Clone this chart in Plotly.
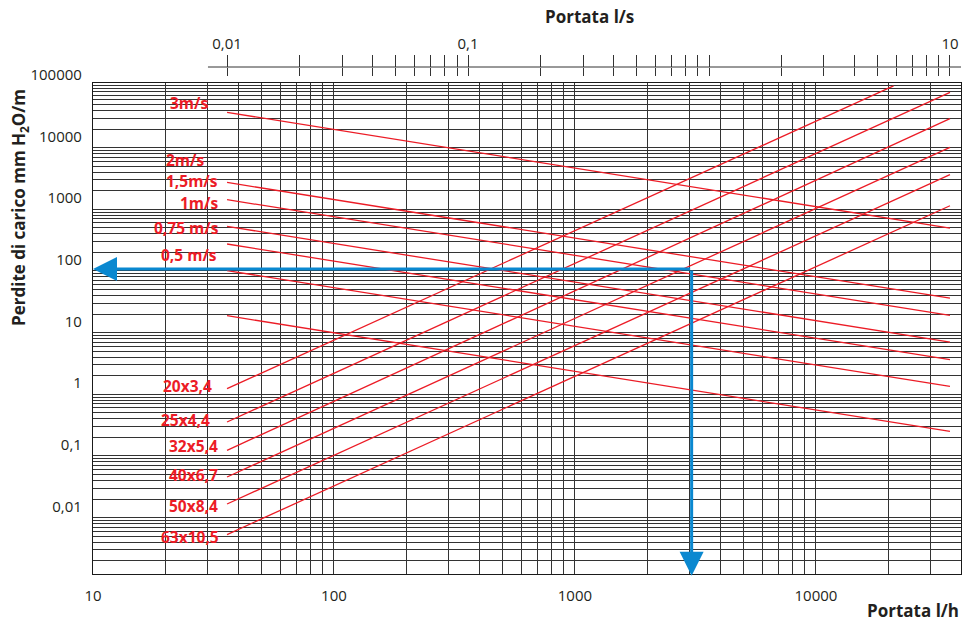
import numpy as np
import plotly.graph_objects as go

# ---------------- data ----------------
# flow range of the chart (l/h) and head-loss range (mm H2O/m)
flow_range_lh = [10, 40000]
loss_range = [10 ** -2.915, 10 ** 5.047]
LH_PER_LS = 3600  # 1 l/s = 3600 l/h

# bottom axis (l/h): labelled decades
flow_label_vals = [10, 100, 1000, 10000]
flow_label_text = ["10", "100", "1000", "10000"]

# left axis (mm H2O/m): labelled decades
loss_label_vals = [100000, 10000, 1000, 100, 10, 1, 0.1, 0.01]
loss_label_text = ["100000", "10000", "1000", "100", "10", "1", "0,1", "0,01"]

# top axis (l/s): labelled ticks
ls_label_vals = [0.01, 0.1, 10]
ls_label_text = ["0,01", "0,1", "10"]
ls_axis_start_lh = 30  # top scale line starts at 30 l/h

# pipe lines (rising): outer diameter x wall thickness
pipe_names = ["20x3,4", "25x4,4", "32x5,4", "40x6,7", "50x8,4", "63x10,5"]
pipe_flow_start = [36, 36, 36, 36, 36, 36]
pipe_loss_start = [1.23, 0.355, 0.123, 0.0455, 0.0166, 0.0053]
pipe_flow_end = [21000, 36000, 36000, 36000, 36000, 36000]
pipe_loss_end = [100000, 78500, 29400, 10070, 3630, 1140]

# velocity lines (falling)
vel_flow_start = [36, 36, 36, 36, 36, 36, 36]
vel_loss_start = [37200, 2720, 1430, 527, 273, 101, 18.8]
vel_flow_end = [36000, 36000, 36000, 36000, 36000, 36000, 36000]
vel_loss_end = [494, 36.2, 19.0, 7.0, 3.63, 1.34, 0.25]
vel_names = ["3m/s", "2m/s", "1,5m/s", "1m/s", "0,75 m/s", "0,5 m/s"]

# example reading (blue arrows)
guide_flow = 3050   # l/h
guide_loss = 107    # mm H2O/m

# ---------------- label placement (positions, not data) ----------------
vel_label_pos_x = [30.5, 29.5, 33.6, 33.6, 34.1, 33.3]
vel_label_pos_y = [53500, 6350, 2820, 1260, 497, 183]
pipe_label_pos_x = [31.8, 31.2, 33.8, 33.6, 33.6, 34.1]
pipe_label_pos_y = [1.34, 0.377, 0.1426, 0.0496, 0.0156, 0.00484]

# ---------------- styles ----------------
RED = "#ec1c26"
BLUE = "#0a88d0"
GRID = "#333333"
TXT = "#231f20"
FONT = "Open Sans"

W, H = 964, 624
L, R, T, B = 93, 3, 67, 50
plot_top_px = 83
plot_w = W - L - R
paper_h = H - T - B
y_dom_top = (H - B - plot_top_px) / paper_h


def px_x(px):
    return (px - L) / plot_w


def px_y(py):
    return (H - B - py) / paper_h


# grid tick values (1..9 per decade)
def log_ticks(lo, hi):
    vals = []
    e = int(np.floor(np.log10(lo))) - 1
    while 10 ** e <= hi * 10:
        for m in range(1, 10):
            v = m * 10.0 ** e
            if lo * 0.999 <= v <= hi * 1.001:
                vals.append(float(f"{v:.6g}"))
        e += 1
    return vals


def label_for(v, vals, texts):
    m = [t for lv, t in zip(vals, texts) if abs(np.log10(v) - np.log10(lv)) < 1e-6]
    return m[0] if m else ""


x_ticks = log_ticks(flow_range_lh[0], flow_range_lh[1])
x_text = [label_for(v, flow_label_vals, flow_label_text) for v in x_ticks]
y_ticks = log_ticks(loss_range[0], loss_range[1])
y_text = [label_for(v, loss_label_vals, loss_label_text) for v in y_ticks]
ls_ticks = log_ticks(0.01, 10)
ls_text = [label_for(v, ls_label_vals, ls_label_text) for v in ls_ticks]

fig = go.Figure()

for i in range(len(vel_loss_start)):
    fig.add_trace(go.Scatter(
        x=[vel_flow_start[i], vel_flow_end[i]], y=[vel_loss_start[i], vel_loss_end[i]],
        mode="lines", line=dict(color=RED, width=1.3), hoverinfo="skip", showlegend=False))
for i in range(len(pipe_names)):
    fig.add_trace(go.Scatter(
        x=[pipe_flow_start[i], pipe_flow_end[i]], y=[pipe_loss_start[i], pipe_loss_end[i]],
        mode="lines", line=dict(color=RED, width=1.3), hoverinfo="skip", showlegend=False))

# invisible traces to attach the top (l/s) axes
for ax in ["x2", "x3"]:
    fig.add_trace(go.Scatter(x=ls_ticks, y=[1] * len(ls_ticks), xaxis=ax, yaxis="y",
                             mode="markers", marker=dict(opacity=0), hoverinfo="skip",
                             showlegend=False))

lx = [np.log10(v) for v in flow_range_lh]
ly = [np.log10(v) for v in loss_range]

fig.update_layout(
    width=W, height=H,
    margin=dict(l=L, r=R, t=T, b=B, pad=0),
    paper_bgcolor="white", plot_bgcolor="rgba(0,0,0,0)",
    font=dict(family=FONT, size=15, color=TXT),
    showlegend=False,
    xaxis=dict(type="log", range=lx, tickmode="array", tickvals=x_ticks, ticktext=x_text,
               showgrid=True, gridcolor=GRID, gridwidth=1, ticks="",
               showline=True, mirror=True, linecolor="#1a1a1a", linewidth=1.2,
               ticklabelstandoff=8, tickfont=dict(size=15, color=TXT)),
    yaxis=dict(type="log", range=ly, domain=[0, y_dom_top], tickmode="array",
               tickvals=y_ticks, ticktext=y_text,
               showgrid=True, gridcolor=GRID, gridwidth=1, ticks="",
               showline=True, mirror=True, linecolor="#1a1a1a", linewidth=1.2,
               ticklabelshift=-11, ticklabelstandoff=7, tickfont=dict(size=15, color=TXT)),
    xaxis2=dict(type="log", overlaying="x", anchor="free", position=1, side="top",
                range=[v - np.log10(LH_PER_LS) for v in lx],
                tickmode="array", tickvals=ls_ticks, ticktext=ls_text,
                ticks="outside", ticklen=12, tickcolor="#333", tickwidth=1,
                showline=False, showgrid=False, tickfont=dict(size=15, color=TXT),
                ticklabelstandoff=0),
    xaxis3=dict(type="log", overlaying="x", anchor="free", position=1, side="top",
                range=[v - np.log10(LH_PER_LS) for v in lx],
                tickmode="array", tickvals=ls_ticks, ticktext=[""] * len(ls_ticks),
                ticks="inside", ticklen=8, tickcolor="#333", tickwidth=1,
                showline=False, showgrid=False, showticklabels=False),
)

# top scale line
fig.add_shape(type="line", xref="x", yref="paper", x0=ls_axis_start_lh, x1=flow_range_lh[1],
              y0=1, y1=1, line=dict(color="#333", width=1))

annotations = []
for name, xv, yv in zip(vel_names, vel_label_pos_x, vel_label_pos_y):
    annotations.append(dict(text=f"<b>{name}</b>", x=np.log10(xv), y=np.log10(yv), xref="x", yref="y",
                            xanchor="right", yanchor="middle", showarrow=False,
                            font=dict(color=RED, size=15.5, family=FONT)))
for name, xv, yv in zip(pipe_names, pipe_label_pos_x, pipe_label_pos_y):
    annotations.append(dict(text=f"<b>{name}</b>", x=np.log10(xv), y=np.log10(yv), xref="x", yref="y",
                            xanchor="right", yanchor="middle", showarrow=False,
                            font=dict(color=RED, size=15.5, family=FONT)))

# blue example arrows
annotations.append(dict(text="", x=lx[0], y=np.log10(guide_loss), xref="x", yref="y",
                        ax=np.log10(guide_flow), ay=np.log10(guide_loss), axref="x", ayref="y",
                        showarrow=True, arrowhead=2, arrowsize=1.6, arrowwidth=3,
                        arrowcolor=BLUE, standoff=0))
annotations.append(dict(text="", x=np.log10(guide_flow), y=ly[0] - 0.03, xref="x", yref="y",
                        ax=np.log10(guide_flow), ay=np.log10(guide_loss), axref="x", ayref="y",
                        showarrow=True, arrowhead=2, arrowsize=1.6, arrowwidth=3,
                        arrowcolor=BLUE, standoff=0))

# titles
annotations.append(dict(text="<b>Portata l/s</b>", x=px_x(589), y=px_y(17), xref="paper", yref="paper",
                        xanchor="center", yanchor="middle", showarrow=False,
                        font=dict(size=17, color=TXT, family=FONT)))
annotations.append(dict(text="<b>Portata l/h</b>", x=px_x(961), y=px_y(624), xref="paper", yref="paper",
                        xanchor="right", yanchor="bottom", showarrow=False,
                        font=dict(size=17, color=TXT, family=FONT)))
annotations.append(dict(text="<b>Perdite di carico mm H<sub>2</sub>O/m</b>", x=px_x(19), y=px_y(208),
                        xref="paper", yref="paper", xanchor="center", yanchor="middle",
                        textangle=-90, showarrow=False, font=dict(size=17, color=TXT, family=FONT)))

fig.update_layout(annotations=annotations)
fig.write_html("out.html")
